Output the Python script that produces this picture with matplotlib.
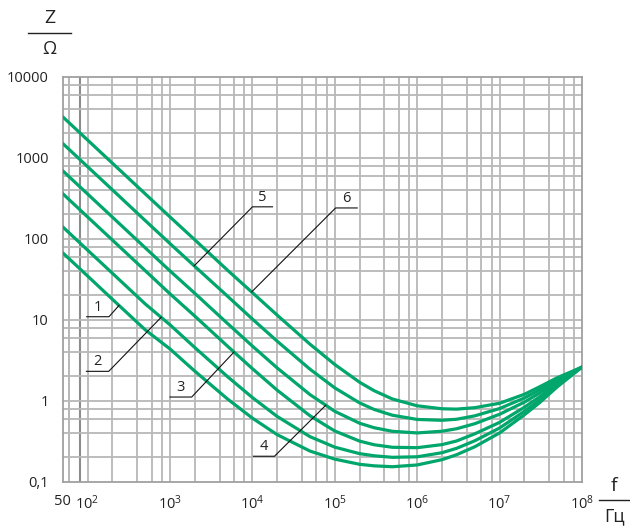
import numpy as np
import matplotlib
matplotlib.use("Agg")
import matplotlib.pyplot as plt

plt.rcParams['font.family'] = ['Open Sans', 'DejaVu Sans']
plt.rcParams['mathtext.fontset'] = 'custom'
plt.rcParams['mathtext.rm'] = 'Open Sans'

# ---------------- data ----------------
freq = [50, 100, 200, 500, 1e3, 2e3, 5e3, 1e4, 2e4, 5e4, 1e5, 2e5, 3e5, 5e5,
        1e6, 2e6, 3e6, 5e6, 1e7, 2e7, 3e7, 5e7, 1e8]

z6 = [3200, 1656, 857, 359, 186, 97, 40.8, 21.6, 11.4, 4.99, 2.80, 1.69, 1.33, 1.05,
      0.865, 0.795, 0.787, 0.82, 0.93, 1.2, 1.47, 1.92, 2.6]
z5 = [1500, 776, 402, 168, 87.1, 45.6, 19.5, 10.2, 5.43, 2.45, 1.44, 0.94, 0.78, 0.662,
      0.587, 0.573, 0.59, 0.65, 0.80, 1.08, 1.35, 1.82, 2.6]
z4 = [690, 357, 185, 77.4, 40.1, 21.2, 8.98, 4.73, 2.54, 1.19, 0.74, 0.527, 0.464, 0.419,
      0.40, 0.42, 0.45, 0.52, 0.68, 0.96, 1.23, 1.73, 2.6]
z3 = [360, 186, 96.4, 40.4, 20.9, 11.1, 4.71, 2.49, 1.35, 0.652, 0.423, 0.317, 0.286, 0.266,
      0.263, 0.287, 0.318, 0.39, 0.54, 0.83, 1.10, 1.63, 2.6]
z2 = [140, 72.4, 37.5, 15.7, 8.66, 4.54, 1.98, 1.095, 0.639, 0.36, 0.267, 0.222, 0.209, 0.20,
      0.203, 0.228, 0.258, 0.32, 0.46, 0.74, 1.00, 1.55, 2.6]
z1 = [67, 34.7, 17.9, 7.52, 4.36, 2.32, 1.05, 0.61, 0.381, 0.239, 0.19, 0.164, 0.157, 0.153,
      0.161, 0.187, 0.215, 0.27, 0.40, 0.67, 0.93, 1.48, 2.6]

curves = [z1, z2, z3, z4, z5, z6]
curve_labels = ['1', '2', '3', '4', '5', '6']
label_freq = [241, 782, 5990, 77800, 1970, 9800]

x_ticks = [50, 1e2, 1e3, 1e4, 1e5, 1e6, 1e7, 1e8]
x_ticklabels = ['50', r'$\mathregular{10^2}$', r'$\mathregular{10^3}$', r'$\mathregular{10^4}$',
                r'$\mathregular{10^5}$', r'$\mathregular{10^6}$', r'$\mathregular{10^7}$',
                r'$\mathregular{10^8}$']
y_ticks = [0.1, 1, 10, 100, 1000, 10000]
y_ticklabels = ['0,1', '1', '10', '100', '1000', '10000']

# ---------------- figure ----------------
W, H = 630, 526
fig = plt.figure(figsize=(W / 100, H / 100), dpi=100)
ax = fig.add_axes([62.7 / W, 1 - 481.7 / H, (582 - 62.7) / W, (481.7 - 76.7) / H])
ax.set_xscale('log')
ax.set_yscale('log')
ax.set_xlim(50, 1e8)
ax.set_ylim(0.1, 10000)

grid_c = '#b8b8b8'
# grid lines
for k in range(1, 9):
    for m in (1, 2, 4, 6, 8):
        v = m * 10 ** k
        if 50 < v < 1e8:
            ax.axvline(v, color=grid_c, lw=1.3, zorder=1)
ax.axvline(60, color=grid_c, lw=1.3, zorder=1)
ax.axvline(80, color='#8c8c8c', lw=1.5, zorder=1)
for k in range(-1, 4):
    for m in (1, 2, 4, 6, 8):
        v = m * 10.0 ** k
        if 0.1 < v < 10000:
            ax.axhline(v, color=grid_c, lw=1.3, zorder=1)

for s in ax.spines.values():
    s.set_color('#a0a0a0')
    s.set_linewidth(1.3)

green = '#00a66b'
for z in curves:
    ax.plot(freq, z, color=green, lw=2.3, zorder=3, solid_capstyle='round')

ax.set_xticks(x_ticks)
ax.set_xticklabels(x_ticklabels)
ax.set_yticks(y_ticks)
ax.set_yticklabels(y_ticklabels)
ax.minorticks_off()
ax.tick_params(axis='both', length=0, labelsize=10.5, colors='#222222')
ax.tick_params(axis='x', pad=9)
ax.tick_params(axis='y', pad=10)

# axis unit labels
fig.text(49.5 / W, 1 - 18 / H, 'Z', ha='center', va='center', fontsize=14, color='#222222')
fig.add_artist(plt.Line2D([28 / W, 71 / W], [1 - 33 / H, 1 - 33 / H], color='#222222', lw=1.0))
fig.text(49.5 / W, 1 - 49 / H, 'Ω', ha='center', va='center', fontsize=13, color='#222222')
fig.text(614 / W, 1 - 486 / H, 'f', ha='center', va='center', fontsize=14, color='#222222')
fig.add_artist(plt.Line2D([599 / W, 630 / W], [1 - 500 / H, 1 - 500 / H], color='#222222', lw=1.0))
fig.text(615 / W, 1 - 516 / H, 'Гц', ha='center', va='center', fontsize=13, color='#222222')

# leader labels (pixel offsets from curve anchor: elbow, end of underline)
offsets = [(-10, -11.3, -32.3), (-52.4, -54, -74.7), (-42.3, -45, -64),
           (-51.3, -51, -72.3), (58.3, 59, 78.3), (84, 84, 105.6)]
fig.canvas.draw()
lf = np.log10(freq)
for z, lab, f0, (dx, dy, dx2) in zip(curves, curve_labels, label_freq, offsets):
    zv = 10 ** np.interp(np.log10(f0), lf, np.log10(z))
    px, py = ax.transData.transform((f0, zv))
    xs = [px, px + dx, px + dx2]
    ys = [py, py + dy, py + dy]
    fx = [x / W for x in xs]
    fy = [y / H for y in ys]
    fig.add_artist(plt.Line2D(fx, fy, color='#111111', lw=0.8))
    cx = (px + dx + px + dx2) / 2
    fig.text(cx / W, (py + dy + 2) / H, lab, ha='center', va='bottom', fontsize=10.5,
             color='#222222')

fig.savefig('out.png', dpi=100)
